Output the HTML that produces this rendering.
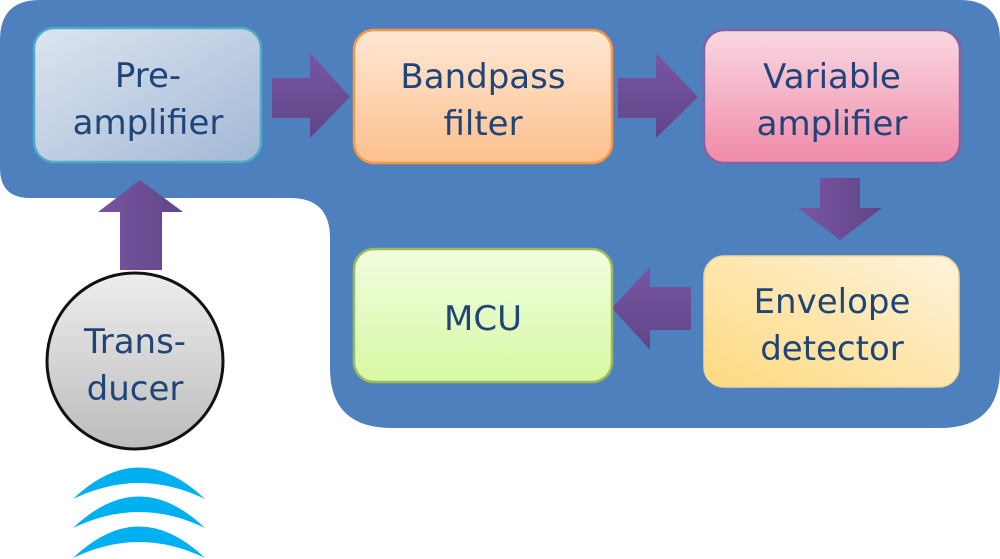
<!DOCTYPE html>
<html><head><meta charset="utf-8"><style>
html,body{margin:0;padding:0;background:#fff;width:1000px;height:559px;overflow:hidden}
text{font-family:"DejaVu Sans","Liberation Sans",sans-serif;fill:#1f4478;font-size:34px;text-anchor:middle}
</style></head><body>
<svg width="1000" height="559" viewBox="0 0 1000 559" xmlns="http://www.w3.org/2000/svg">
<defs>
<linearGradient id="gPre" x1="0" y1="0" x2="1" y2="1"><stop offset="0" stop-color="#dde5f0"/><stop offset="1" stop-color="#a2b8d6"/></linearGradient>
<linearGradient id="gBand" x1="0" y1="0" x2="0" y2="1"><stop offset="0" stop-color="#ffe8d6"/><stop offset="1" stop-color="#fcc08c"/></linearGradient>
<linearGradient id="gVar" x1="0" y1="0" x2="0" y2="1"><stop offset="0" stop-color="#f9d8e2"/><stop offset="1" stop-color="#f08aa8"/></linearGradient>
<linearGradient id="gEnv" x1="0" y1="1" x2="1" y2="0"><stop offset="0" stop-color="#fdd97f"/><stop offset="1" stop-color="#fef3dc"/></linearGradient>
<linearGradient id="gMcu" x1="0" y1="0" x2="0" y2="1"><stop offset="0" stop-color="#f1fde0"/><stop offset="1" stop-color="#d7f9a4"/></linearGradient>
<linearGradient id="gCir" x1="0" y1="0" x2="0" y2="1"><stop offset="0" stop-color="#ededed"/><stop offset="1" stop-color="#bcbcbc"/></linearGradient>
<linearGradient id="gArr" x1="0" y1="0" x2="0" y2="1"><stop offset="0" stop-color="#7a55a3"/><stop offset="1" stop-color="#5f4587"/></linearGradient>
<linearGradient id="gArrH" x1="0" y1="0" x2="1" y2="0"><stop offset="0" stop-color="#7a55a3"/><stop offset="1" stop-color="#5f4587"/></linearGradient>
</defs>
<path d="M40,0 H960 Q1000,0 1000,40 V368 Q1000,428 940,428 H392 Q330,428 330,368 V238 Q330,198 290,198 H30 Q0,198 0,168 V40 Q0,0 40,0 Z" fill="#4e80bd"/>
<path d="M272,78 H310 V53 L350,97 L310,138 V118 H272 Z" fill="url(#gArr)"/>
<path d="M618,78 H656 V53 L698,97 L656,138 V118 H618 Z" fill="url(#gArr)"/>
<path d="M820,178 H860 V208 H882 L840,240 L798,208 H820 Z" fill="url(#gArrH)"/>
<path d="M691,287 H650 V267 L612,308 L650,350 V330 H691 Z" fill="url(#gArr)"/>
<path d="M120,270 V212 H98 L140,180 L183,212 H162 V270 Z" fill="url(#gArrH)"/>
<rect x="34" y="28" width="227" height="134" rx="20" fill="url(#gPre)" stroke="#4bacc6" stroke-width="2.5"/>
<rect x="354" y="30" width="258" height="133" rx="20" fill="url(#gBand)" stroke="#f79646" stroke-width="2.5"/>
<rect x="704" y="30" width="256" height="133" rx="20" fill="url(#gVar)" stroke="#8064a2" stroke-width="2.5"/>
<rect x="704" y="256" width="255" height="131" rx="20" fill="url(#gEnv)" stroke="#f2d59a" stroke-width="1.5"/>
<rect x="354" y="249" width="258" height="133" rx="20" fill="url(#gMcu)" stroke="#9bbb59" stroke-width="2.5"/>
<circle cx="135" cy="361" r="88" fill="url(#gCir)" stroke="#111" stroke-width="3"/>
<g fill="#00b0f0">
<path d="M73,499 Q139,436 205,499 Q139,467 73,499 Z"/>
<path d="M73,528 Q139,465 205,528 Q139,496 73,528 Z"/>
<path d="M73,558 Q139,495 205,558 Q139,526 73,558 Z"/>
</g>
<text x="148" y="87">Pre-</text><text x="148" y="134">amplifier</text>
<text x="483" y="88">Bandpass</text><text x="483" y="135">filter</text>
<text x="832" y="88">Variable</text><text x="832" y="135">amplifier</text>
<text x="832" y="313">Envelope</text><text x="832" y="360">detector</text>
<text x="483" y="330">MCU</text>
<text x="135" y="353">Trans-</text><text x="135" y="400">ducer</text>
</svg>
</body></html>
